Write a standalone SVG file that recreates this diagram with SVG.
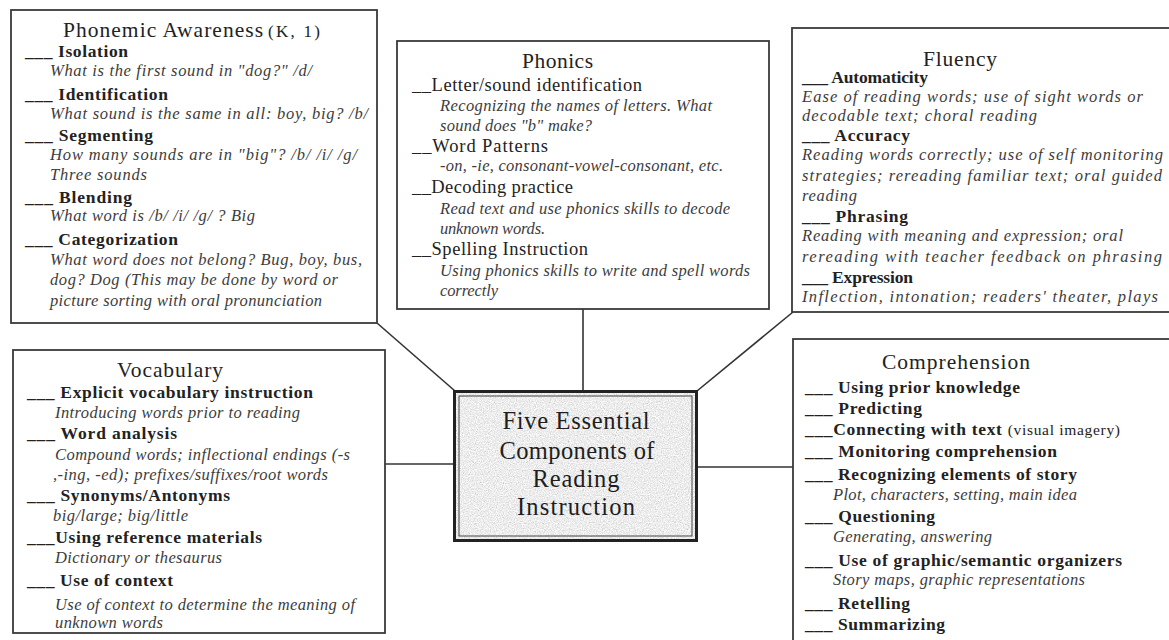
<svg xmlns="http://www.w3.org/2000/svg" width="1169" height="640" viewBox="0 0 1169 640" font-family="'Liberation Serif', 'DejaVu Serif', 'Noto Serif', 'Times New Roman', serif">
<style>
text{font-family:"Liberation Serif","DejaVu Serif","Noto Serif","Times New Roman",serif;fill:#222}
.box{fill:#fff;stroke:#3a3a3a;stroke-width:1.8}
.conn{stroke:#333;stroke-width:1.6;fill:none}
.t{font-size:21.5px}
.b{font-size:17.5px;font-weight:bold}
.p{font-size:18.5px}
.i{font-size:16.5px;font-style:italic;fill:#3c3c3c}
.c{font-size:24.5px;fill:#1e1e1e}
.r{font-weight:normal;font-size:15.5px}
</style>
<defs>
<filter id="speckle" x="0" y="0" width="1" height="1">
<feTurbulence type="fractalNoise" baseFrequency="0.85" numOctaves="2" seed="4" result="n"/>
<feColorMatrix in="n" type="matrix" values="0.33 0.33 0.33 0 0 0.33 0.33 0.33 0 0 0.33 0.33 0.33 0 0 0 0 0 0 1"/>
<feComponentTransfer><feFuncR type="linear" slope="1.1" intercept="0.3"/><feFuncG type="linear" slope="1.1" intercept="0.3"/><feFuncB type="linear" slope="1.1" intercept="0.3"/></feComponentTransfer>
<feComposite in2="SourceGraphic" operator="in"/>
</filter>
</defs>
<rect width="1169" height="640" fill="#fff"/>

<g id="connectors">
<line class="conn" x1="377" y1="323" x2="455" y2="391"/>
<line class="conn" x1="583" y1="309" x2="583" y2="391"/>
<line class="conn" x1="793" y1="312" x2="697" y2="391"/>
<line class="conn" x1="385" y1="464" x2="454" y2="464"/>
<line class="conn" x1="697" y1="467" x2="793" y2="467"/>
</g>

<g id="phonemic-awareness">
<rect class="box" x="11" y="10" width="366" height="313"/>
<text class="t" x="63" y="37" textLength="200" lengthAdjust="spacing">Phonemic Awareness</text>
<text x="268" y="37" font-size="17" textLength="52" lengthAdjust="spacing">(K, 1)</text>
<text class="b" x="25" y="57" textLength="103" lengthAdjust="spacing">___ Isolation</text>
<text class="i" x="50" y="76" textLength="262" lengthAdjust="spacing">What is the first sound in "dog?" /d/</text>
<text class="b" x="25" y="100" textLength="143" lengthAdjust="spacing">___ Identification</text>
<text class="i" x="50" y="119" textLength="318" lengthAdjust="spacing">What sound is the same in all: boy, big? /b/</text>
<text class="b" x="25" y="141" textLength="128" lengthAdjust="spacing">___ Segmenting</text>
<text class="i" x="50" y="160" textLength="307" lengthAdjust="spacing">How many sounds are in "big"? /b/ /i/ /g/</text>
<text class="i" x="50" y="180" textLength="97" lengthAdjust="spacing">Three sounds</text>
<text class="b" x="25" y="203" textLength="107" lengthAdjust="spacing">___ Blending</text>
<text class="i" x="50" y="221" textLength="205" lengthAdjust="spacing">What word is /b/ /i/ /g/ ? Big</text>
<text class="b" x="25" y="245" textLength="153" lengthAdjust="spacing">___ Categorization</text>
<text class="i" x="50" y="265" textLength="312" lengthAdjust="spacing">What word does not belong? Bug, boy, bus,</text>
<text class="i" x="50" y="285" textLength="288" lengthAdjust="spacing">dog? Dog (This may be done by word or</text>
<text class="i" x="50" y="306" textLength="272" lengthAdjust="spacing">picture sorting with oral pronunciation</text>
</g>

<g id="phonics">
<rect class="box" x="397" y="41" width="372" height="268"/>
<text class="t" x="522" y="68" textLength="71" lengthAdjust="spacing">Phonics</text>
<text class="p" x="412" y="91" textLength="230" lengthAdjust="spacing">__Letter/sound identification</text>
<text class="i" x="440" y="111" textLength="272" lengthAdjust="spacing">Recognizing the names of letters.  What</text>
<text class="i" x="440" y="131" textLength="152" lengthAdjust="spacing">sound does "b" make?</text>
<text class="p" x="412" y="152" textLength="136" lengthAdjust="spacing">__Word Patterns</text>
<text class="i" x="440" y="171" textLength="283" lengthAdjust="spacing">-on, -ie, consonant-vowel-consonant, etc.</text>
<text class="p" x="412" y="193" textLength="161" lengthAdjust="spacing">__Decoding practice</text>
<text class="i" x="440" y="214" textLength="290" lengthAdjust="spacing">Read text and use phonics skills to decode</text>
<text class="i" x="440" y="234" textLength="105" lengthAdjust="spacing">unknown words.</text>
<text class="p" x="412" y="255" textLength="176" lengthAdjust="spacing">__Spelling Instruction</text>
<text class="i" x="440" y="276" textLength="310" lengthAdjust="spacing">Using phonics skills to write and spell words</text>
<text class="i" x="440" y="296" textLength="58" lengthAdjust="spacing">correctly</text>
</g>

<g id="fluency">
<rect class="box" x="792" y="28" width="385" height="284"/>
<text class="t" x="923" y="66" textLength="74" lengthAdjust="spacing">Fluency</text>
<text class="b" x="802" y="83" textLength="126" lengthAdjust="spacing">___ Automaticity</text>
<text class="i" x="802" y="102" textLength="341" lengthAdjust="spacing">Ease of reading words; use of sight words or</text>
<text class="i" x="802" y="121" textLength="235" lengthAdjust="spacing">decodable text; choral reading</text>
<text class="b" x="802" y="141" textLength="108" lengthAdjust="spacing">___ Accuracy</text>
<text class="i" x="802" y="160" textLength="361" lengthAdjust="spacing">Reading words correctly; use of self monitoring</text>
<text class="i" x="802" y="181" textLength="360" lengthAdjust="spacing">strategies; rereading familiar text; oral guided</text>
<text class="i" x="802" y="201" textLength="55" lengthAdjust="spacing">reading</text>
<text class="b" x="802" y="222" textLength="106" lengthAdjust="spacing">___ Phrasing</text>
<text class="i" x="802" y="241" textLength="321" lengthAdjust="spacing">Reading with meaning and expression; oral</text>
<text class="i" x="802" y="262" textLength="360" lengthAdjust="spacing">rereading with teacher feedback on phrasing</text>
<text class="b" x="802" y="283" textLength="111" lengthAdjust="spacing">___ Expression</text>
<text class="i" x="802" y="302" textLength="356" lengthAdjust="spacing">Inflection, intonation; readers' theater, plays</text>
</g>

<g id="vocabulary">
<rect class="box" x="13" y="350" width="372" height="283"/>
<text class="t" x="117" y="377" textLength="106" lengthAdjust="spacing">Vocabulary</text>
<text class="b" x="27" y="398" textLength="286" lengthAdjust="spacing">___ Explicit vocabulary instruction</text>
<text class="i" x="55" y="418" textLength="245" lengthAdjust="spacing">Introducing words prior to reading</text>
<text class="b" x="27" y="439" textLength="150" lengthAdjust="spacing">___ Word analysis</text>
<text class="i" x="55" y="460" textLength="295" lengthAdjust="spacing">Compound words; inflectional endings (-s</text>
<text class="i" x="53" y="480" textLength="275" lengthAdjust="spacing">,-ing, -ed); prefixes/suffixes/root words</text>
<text class="b" x="27" y="501" textLength="203" lengthAdjust="spacing">___ Synonyms/Antonyms</text>
<text class="i" x="53" y="521" textLength="135" lengthAdjust="spacing">big/large; big/little</text>
<text class="b" x="27" y="543" textLength="235" lengthAdjust="spacing">___Using reference materials</text>
<text class="i" x="55" y="563" textLength="167" lengthAdjust="spacing">Dictionary or thesaurus</text>
<text class="b" x="27" y="586" textLength="146" lengthAdjust="spacing">___ Use of context</text>
<text class="i" x="55" y="610" textLength="300" lengthAdjust="spacing">Use of context to determine the meaning of</text>
<text class="i" x="55" y="628" textLength="108" lengthAdjust="spacing">unknown words</text>
</g>

<g id="center">
<rect x="455" y="392" width="241" height="148" fill="#fff" filter="url(#speckle)"/>
<rect x="454.5" y="391.5" width="242" height="149" fill="none" stroke="#222" stroke-width="3"/>
<rect x="459" y="396" width="233" height="140" fill="none" stroke="#444" stroke-width="1"/>
<text class="c" x="576" y="429" text-anchor="middle" textLength="147" lengthAdjust="spacing">Five Essential</text>
<text class="c" x="577" y="459" text-anchor="middle" textLength="155" lengthAdjust="spacing">Components of</text>
<text class="c" x="576" y="487" text-anchor="middle" textLength="87" lengthAdjust="spacing">Reading</text>
<text class="c" x="576" y="515" text-anchor="middle" textLength="118" lengthAdjust="spacing">Instruction</text>
</g>

<g id="comprehension">
<rect class="box" x="793" y="339" width="385" height="310"/>
<text class="t" x="882" y="369" textLength="148" lengthAdjust="spacing">Comprehension</text>
<text class="b" x="805" y="393" textLength="215" lengthAdjust="spacing">___ Using prior knowledge</text>
<text class="b" x="805" y="414" textLength="117" lengthAdjust="spacing">___ Predicting</text>
<text class="b" x="805" y="435" textLength="315" lengthAdjust="spacing">___Connecting with text <tspan class="r">(visual imagery)</tspan></text>
<text class="b" x="805" y="457" textLength="252" lengthAdjust="spacing">___ Monitoring comprehension</text>
<text class="b" x="805" y="480" textLength="272" lengthAdjust="spacing">___ Recognizing elements of story</text>
<text class="i" x="833" y="500" textLength="244" lengthAdjust="spacing">Plot, characters, setting, main idea</text>
<text class="b" x="805" y="522" textLength="130" lengthAdjust="spacing">___ Questioning</text>
<text class="i" x="833" y="542" textLength="159" lengthAdjust="spacing">Generating, answering</text>
<text class="b" x="805" y="566" textLength="317" lengthAdjust="spacing">___ Use of graphic/semantic organizers</text>
<text class="i" x="833" y="585" textLength="252" lengthAdjust="spacing">Story maps, graphic representations</text>
<text class="b" x="805" y="609" textLength="105" lengthAdjust="spacing">___ Retelling</text>
<text class="b" x="805" y="630" textLength="140" lengthAdjust="spacing">___ Summarizing</text>
</g>
</svg>
